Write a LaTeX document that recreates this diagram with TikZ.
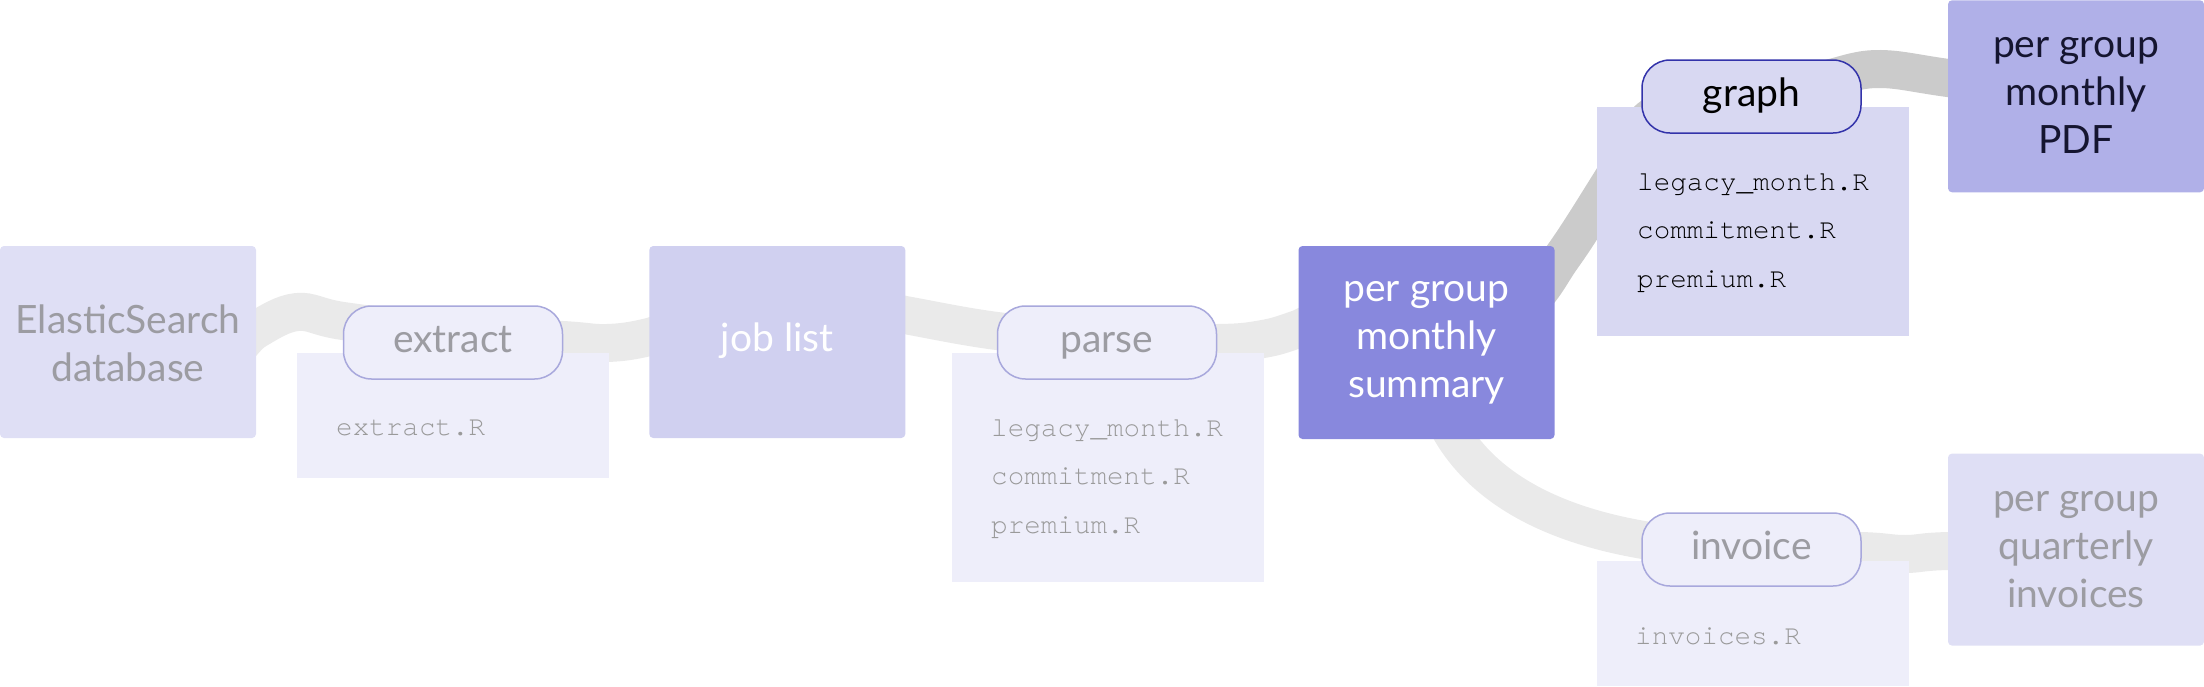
\documentclass[tikz,border=0pt]{standalone}
\usepackage{fontspec}
\setmainfont{Lato}
\setmonofont{texgyrecursor-regular.otf}
\usetikzlibrary{backgrounds}
\definecolor{bandlight}{HTML}{EAEAEA}
\definecolor{banddark}{HTML}{CBCBCB}
\definecolor{boxpale}{HTML}{DFDFF5}
\definecolor{boxjobs}{HTML}{D0D0F0}
\definecolor{boxsum}{HTML}{8888DD}
\definecolor{boxpdf}{HTML}{B0B0E8}
\definecolor{codepale}{HTML}{EEEEFA}
\definecolor{codehi}{HTML}{D8D8F2}
\definecolor{pillline}{HTML}{A8A8DC}
\definecolor{pilldark}{HTML}{3333AA}
\definecolor{txtgray}{HTML}{9C9CA2}
\definecolor{codegray}{HTML}{9A9A9A}
\definecolor{txtdark}{HTML}{151530}
\begin{document}
\begin{tikzpicture}[x=1pt,y=-1pt,
  band/.style={line width=38pt, draw=bandlight},
  bandhi/.style={line width=38pt, draw=banddark},
  bigbox/.style={rectangle, rounded corners=4pt, minimum width=256pt, minimum height=192pt,
    inner sep=0pt, align=center, font=\fontsize{39pt}{48pt}\selectfont},
  codebox/.style={rectangle, inner sep=0pt, minimum width=312pt},
  pill/.style={rectangle, rounded corners=28pt, minimum width=219pt, minimum height=73pt,
    inner sep=0pt, line width=1.5pt, font=\fontsize{39pt}{48pt}\selectfont},
  code/.style={anchor=north west, inner sep=0pt, align=left,
    font=\ttfamily\fontsize{27.6pt}{48.5pt}\selectfont}
]
\useasboundingbox (0,0) rectangle (2204,686);

% main boxes
\node[bigbox, fill=boxpale, text=txtgray] (es) at (128,342) {};
\node[text=txtgray, align=center, inner sep=0pt, font=\fontsize{39pt}{48pt}\selectfont,
  yshift=-6pt] (estext) at (es.center) {\strut ElasticSearch\\\strut database};
\node[bigbox, fill=boxjobs, text=white] (jobs) at (777.3,342) {\strut job list};
\node[bigbox, fill=boxsum, minimum height=193pt] (summary) at (1426.5,342.5) {};
\node[text=white, align=center, inner sep=0pt, font=\fontsize{39pt}{48pt}\selectfont,
  yshift=3pt] (sumtext) at (summary.center)
  {\strut per group\\\strut monthly\\\strut summary};
\node[bigbox, fill=boxpdf, text=txtdark] (pdf) at (2076,96.3)
  {\strut per group\\\strut monthly\\\strut PDF};
\node[bigbox, fill=boxpale, text=txtgray] (quarterly) at (2076,549.6)
  {\strut per group\\\strut quarterly\\\strut invoices};

% code boxes
\node[codebox, fill=codepale, minimum height=125.1pt] (extractbox) at (452.6,415.35) {};
\node[codebox, fill=codepale, minimum height=229.1pt] (parsebox) at (1107.6,467.35) {};
\node[codebox, fill=codehi, minimum height=229.2pt] (graphbox) at (1752.8,221.4) {};
\node[codebox, fill=codepale, minimum height=125.2pt] (invoicebox) at (1752.8,623.4) {};

% pills
\node[pill, fill=codepale, draw=pillline, text=txtgray] (extract) at (453,342.5) {\strut extract};
\node[pill, fill=codepale, draw=pillline, text=txtgray] (parse) at (1107,342.5) {\strut parse};
\node[pill, fill=codehi, draw=pilldark, text=black] (graph) at (1751.5,96.5) {\strut graph};
\node[pill, fill=codepale, draw=pillline, text=txtgray] (invoice) at (1751.5,549.5) {\strut invoice};

% code texts
\node[code, text=codegray] (extractR) at (336,401) {\strut extract.R};
\node[code, text=codegray] (parseR) at (991,402)
  {\strut legacy\_month.R\\\strut commitment.R\\\strut premium.R};
\node[code, text=black] (graphR) at (1637,156)
  {\strut legacy\_month.R\\\strut commitment.R\\\strut premium.R};
\node[code, text=codegray] (invoiceR) at (1635,610) {\strut invoices.R};

% bands behind everything
\begin{scope}[on background layer]
\draw[band] plot[smooth, tension=0.6] coordinates {(es.center) (215,360) (256,330) (297,312)
  (343,321) (452,334) (563,340) (607,343) (649,337) (712,318) (jobs.center)};
\draw[band] plot[smooth, tension=0.6] coordinates {(jobs.center) (840,303) (905,315) (997,331)
  (1107,341) (1217,343) (1263,339) (1298,329) (1360,305) (summary.center)};
\draw[band] (summary.center) .. controls (1430,450) and (1510,545) .. (invoice.center);
\draw[band] plot[smooth, tension=0.6] coordinates {(invoice.center) (1861,551) (1905,554)
  (1948,551) (quarterly.center)};
\draw[bandhi] plot[smooth, tension=0.6] coordinates {(summary.center) (1520,308) (1563,256)
  (1612,180) (1650,118) (1710,100) (graph.center)};
\draw[bandhi] plot[smooth, tension=0.6] coordinates {(graph.center) (1823,80) (1877,69)
  (1948,78) (pdf.center)};
\end{scope}
\end{tikzpicture}
\end{document}
